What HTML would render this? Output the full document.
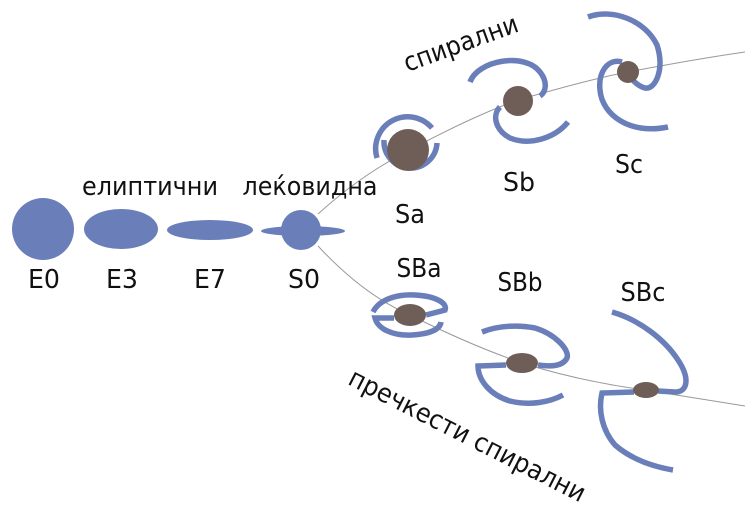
<!DOCTYPE html>
<html><head><meta charset="utf-8"><style>
html,body{margin:0;padding:0;background:#fff;}
svg{display:block;}
text{font-family:"DejaVu Sans","Liberation Sans",sans-serif;fill:#111;}
</style></head><body>
<svg width="755" height="512" viewBox="0 0 755 512" xmlns="http://www.w3.org/2000/svg">
<g fill="none" stroke="#999" stroke-width="1">
<path d="M318,214 C350,185 380,165 410,150 C450,128 490,110 518,100 C560,88 600,77 628,72 C670,64 710,57 745,52"/>
<path d="M318,246 C345,275 375,300 410,315 C450,335 490,352 522,363 C560,375 600,384 645,390 C690,397 720,402 745,406"/>
</g>
<g fill="#6a7fba">
<circle cx="43" cy="229" r="31"/>
<ellipse cx="121" cy="229" rx="37" ry="20"/>
<ellipse cx="210" cy="230" rx="43" ry="10"/>
<ellipse cx="303" cy="231" rx="42" ry="5"/>
<circle cx="301" cy="230" r="20"/>
</g>
<g fill="none" stroke="#6a7fba" stroke-width="5.5">
<path d="M377,158 A32,32 0 0 1 432,128"/>
<path d="M384,140 A26,26 0 1 0 437,143"/>
<path d="M470,82 C478,60 525,52 540,72 C548,82 546,92 540,96"/>
<path d="M500,107 C492,115 495,130 510,138 C530,146 555,138 568,122"/>
<path d="M588,17 C612,8 645,20 657,45 C665,70 655,90 645,88 C638,86 632,80 628,74"/>
<path d="M622,62 C608,58 598,72 600,90 C602,115 630,135 668,127"/>
<path d="M373,312 C380,298 400,294 415,295 C435,296 448,303 445,310 L426,315"/>
<path d="M394,318 L375,318 C378,330 395,336 412,335 C428,334 440,330 441,322"/>
<path d="M482,332 C500,325 520,325 535,328 C555,334 570,350 567,358 C563,366 552,367 538,365"/>
<path d="M506,365 L478,366 C478,380 490,395 510,401 C530,406 550,402 563,395"/>
<path d="M612,312 C640,320 665,340 678,360 C690,378 688,392 675,392 L658,391"/>
<path d="M634,392 L602,393 C598,410 602,430 615,445 C630,458 650,466 673,470"/>
</g>
<g fill="#6e5e57">
<circle cx="408" cy="150" r="21"/>
<circle cx="518" cy="101" r="15"/>
<circle cx="628" cy="72" r="11"/>
<ellipse cx="410" cy="315" rx="16" ry="11"/>
<ellipse cx="522" cy="363" rx="16" ry="10"/>
<ellipse cx="646" cy="390" rx="13" ry="8"/>
</g>
<g font-size="26" text-anchor="middle">
<text x="44" y="288" textLength="32" lengthAdjust="spacingAndGlyphs">E0</text>
<text x="122" y="288" textLength="32" lengthAdjust="spacingAndGlyphs">E3</text>
<text x="210" y="288" textLength="32" lengthAdjust="spacingAndGlyphs">E7</text>
<text x="304" y="288" textLength="32" lengthAdjust="spacingAndGlyphs">S0</text>
<text x="150" y="195" textLength="136" lengthAdjust="spacingAndGlyphs">елиптични</text>
<text x="310" y="195" textLength="135" lengthAdjust="spacingAndGlyphs">леќовидна</text>
<text x="410" y="223" textLength="30" lengthAdjust="spacingAndGlyphs">Sa</text>
<text x="519" y="191" textLength="32" lengthAdjust="spacingAndGlyphs">Sb</text>
<text x="629" y="173" textLength="28" lengthAdjust="spacingAndGlyphs">Sc</text>
<text x="419" y="277" textLength="45" lengthAdjust="spacingAndGlyphs">SBa</text>
<text x="520" y="291" textLength="45" lengthAdjust="spacingAndGlyphs">SBb</text>
<text x="643" y="301" textLength="45" lengthAdjust="spacingAndGlyphs">SBc</text>
<text x="461" y="52" transform="rotate(-20 461 44)" textLength="120" lengthAdjust="spacingAndGlyphs">спирални</text>
<text x="467" y="444" transform="rotate(27 467 436)" textLength="262" lengthAdjust="spacingAndGlyphs">пречкести спирални</text>
</g>
</svg>
</body></html>
